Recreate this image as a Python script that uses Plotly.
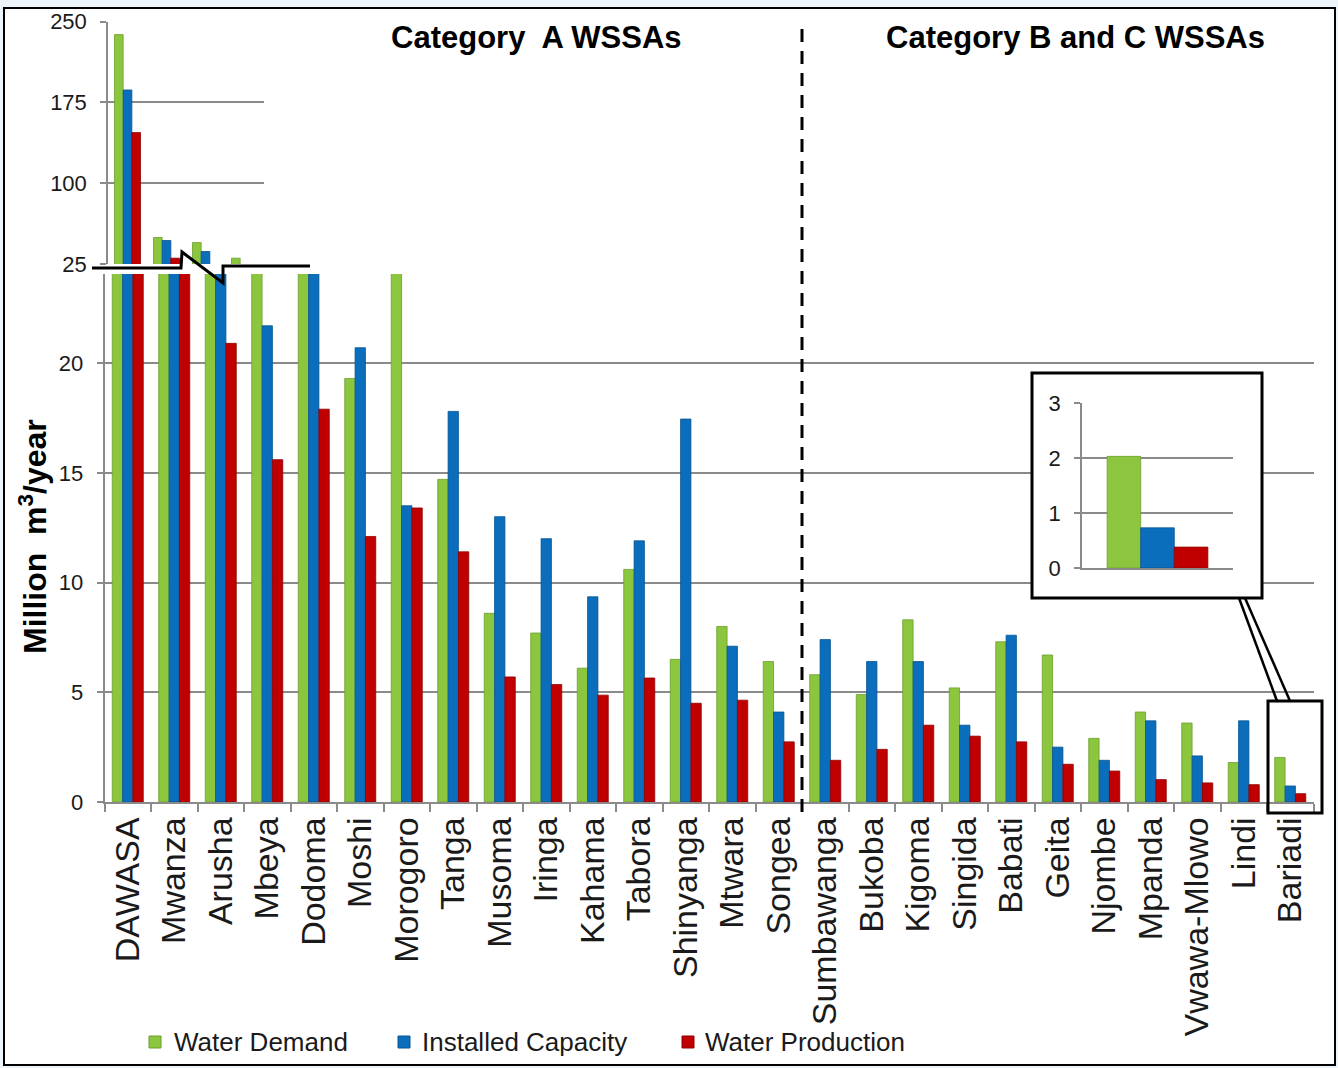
import plotly.graph_objects as go

# Urban water supply authorities, ordered by size
categories = ["DAWASA", "Mwanza", "Arusha", "Mbeya", "Dodoma", "Moshi", "Morogoro",
              "Tanga", "Musoma", "Iringa", "Kahama", "Tabora", "Shinyanga", "Mtwara",
              "Songea", "Sumbawanga", "Bukoba", "Kigoma", "Singida", "Babati", "Geita",
              "Njombe", "Mpanda", "Vwawa-Mlowo", "Lindi", "Bariadi"]

# Million m3/year
water_demand = [238.0, 49.6, 44.9, 30.4, 24.8, 19.3, 24.8, 14.7, 8.6, 7.7, 6.1, 10.6, 6.5,
                8.0, 6.4, 5.8, 4.9, 8.3, 5.2, 7.3, 6.7, 2.9, 4.1, 3.6, 1.8, 2.03]
installed_capacity = [186.6, 46.8, 36.6, 21.7, 24.8, 20.7, 13.5, 17.8, 13.0, 12.0, 9.35, 11.9,
                      17.45, 7.1, 4.1, 7.4, 6.4, 6.4, 3.5, 7.6, 2.5, 1.9, 3.7, 2.1, 3.7, 0.73]
water_production = [147.0, 30.4, 20.9, 15.6, 17.9, 12.1, 13.4, 11.4, 5.7, 5.35, 4.87, 5.65,
                    4.5, 4.64, 2.74, 1.9, 2.4, 3.5, 3.0, 2.74, 1.72, 1.41, 1.02, 0.87, 0.79, 0.38]

lower_ticks = [0, 5, 10, 15, 20]
upper_ticks = [25, 100, 175, 250]
inset_ticks = [0, 1, 2, 3]

n_category_a = 15      # DAWASA .. Songea are Category A
n_upper = 4            # utilities shown on the broken upper scale
series_names = ["Water Demand", "Installed Capacity", "Water Production"]

W, H = 1338, 1068
FONT = "Liberation Sans, Arial, sans-serif"
GRID = "#8a8a8a"
TEXT = "#1a1a1a"
fills = ["#8cc63f", "#0a6ebd", "#c00000"]
edges = ["#6b9e2c", "#07548f", "#8f0000"]


def fx(p):
    return p / W


def fy(p):
    return 1 - p / H


fig = go.Figure()
series_values = [water_demand, installed_capacity, water_production]

# main (lower) scale 0-24
for name, vals, c, e in zip(series_names, series_values, fills, edges):
    fig.add_trace(go.Bar(x=categories, y=vals, name=name, xaxis="x", yaxis="y",
                         marker=dict(color=c, line=dict(color=e, width=0.8)),
                         showlegend=False))
# upper broken scale 25-250 for the largest utilities
for name, vals, c, e in zip(series_names, series_values, fills, edges):
    fig.add_trace(go.Bar(x=categories[:n_upper], y=vals[:n_upper], name=name,
                         xaxis="x2", yaxis="y2",
                         marker=dict(color=c, line=dict(color=e, width=0.8)),
                         showlegend=False))
# white backing panel for the zoomed inset
fig.add_trace(go.Scatter(x=[None], y=[None], xaxis="x3", yaxis="y3",
                         showlegend=False, hoverinfo="skip"))
# zoomed inset of the smallest utility
for name, vals, c, e in zip(series_names, series_values, fills, edges):
    fig.add_trace(go.Bar(x=categories[-1:], y=vals[-1:], name=name,
                         xaxis="x4", yaxis="y4",
                         marker=dict(color=c, line=dict(color=e, width=0.8)),
                         showlegend=False))

tickfont = dict(family=FONT, size=22, color=TEXT)
common_y = dict(showline=True, linecolor=GRID, linewidth=1.5, ticks="outside",
                ticklen=6, tickcolor=GRID, tickwidth=1.5, showgrid=True,
                gridcolor=GRID, gridwidth=1.5, zeroline=False, tickfont=tickfont,
                ticklabelstandoff=9, automargin=False)

fig.update_layout(
    width=W, height=H, template="none",
    margin=dict(l=0, r=0, t=0, b=0),
    paper_bgcolor="#edf4fa", plot_bgcolor="white",
    barmode="group", bargap=0.333, bargroupgap=0,
    showlegend=False,
    xaxis=dict(domain=[fx(104.5), fx(1313.5)], anchor="y", type="category",
               categoryorder="array", categoryarray=categories, range=[-0.5, 25.5],
               showline=True, linecolor=GRID, linewidth=1.5, ticks="outside",
               tickson="boundaries", ticklen=8, tickcolor=GRID, tickwidth=1.5,
               tickangle=-90, showgrid=False, zeroline=False,
               tickfont=dict(family=FONT, size=34, color=TEXT), automargin=False),
    yaxis=dict(domain=[fy(802), fy(274)], anchor="x", range=[0, 24.06],
               tickvals=lower_ticks, **common_y),
    xaxis2=dict(domain=[fx(108), fx(264)], anchor="y2", type="category",
                categoryorder="array", categoryarray=categories[:n_upper],
                range=[-0.5, 3.5], visible=False),
    yaxis2=dict(domain=[fy(264), fy(21.7)], anchor="x2", range=[25, 250],
                tickvals=upper_ticks, **common_y),
    xaxis3=dict(domain=[fx(1032), fx(1262)], anchor="y3", visible=False, range=[0, 1]),
    yaxis3=dict(domain=[fy(598), fy(373)], anchor="x3", visible=False, range=[0, 1]),
    xaxis4=dict(domain=[fx(1082), fx(1233)], anchor="y4", type="category",
                range=[-0.5, 0.5], showline=True, linecolor=GRID, linewidth=1.5,
                showticklabels=False, ticks="", showgrid=False, zeroline=False,
                automargin=False),
    yaxis4=dict(domain=[fy(568), fy(403)], anchor="x4", range=[0, 3],
                tickvals=inset_ticks, **common_y),
)

shapes = []
# outer frame
shapes.append(dict(type="rect", xref="paper", yref="paper", layer="below",
                   x0=fx(4), x1=fx(1335), y0=fy(1065), y1=fy(8),
                   line=dict(color="black", width=2), fillcolor="white"))
# divider between Category A and Category B/C
shapes.append(dict(type="line", xref="x", yref="paper", layer="above",
                   x0=n_category_a - 0.5, x1=n_category_a - 0.5, y0=fy(812), y1=fy(20),
                   line=dict(color="black", width=3, dash="13px,9px")))
# axis break marker
pts = [(92, 268), (181, 268), (182, 252), (223, 283), (223, 266), (310, 266)]
path = "M " + " L ".join(f"{fx(a):.5f},{fy(b):.5f}" for a, b in pts)
shapes.append(dict(type="path", xref="paper", yref="paper", layer="above", path=path,
                   line=dict(color="black", width=3)))
# highlight box, inset frame and callout
shapes.append(dict(type="rect", xref="paper", yref="paper", layer="above",
                   x0=fx(1268), x1=fx(1322), y0=fy(813), y1=fy(701),
                   line=dict(color="black", width=3)))
shapes.append(dict(type="rect", xref="paper", yref="paper", layer="above",
                   x0=fx(1032), x1=fx(1262), y0=fy(598), y1=fy(373),
                   line=dict(color="black", width=3)))
for (a0, a1) in [(1239, 1277), (1245, 1290)]:
    shapes.append(dict(type="line", xref="paper", yref="paper", layer="above",
                       x0=fx(a0), y0=fy(598), x1=fx(a1), y1=fy(701),
                       line=dict(color="black", width=2.5)))

annotations = [
    dict(text="<b>Category  A WSSAs</b>", x=fx(536), y=fy(37), xref="paper", yref="paper",
         showarrow=False, xanchor="center", yanchor="middle",
         font=dict(family=FONT, size=31, color="black")),
    dict(text="<b>Category B and C WSSAs</b>", x=fx(1075), y=fy(37), xref="paper",
         yref="paper", showarrow=False, xanchor="center", yanchor="middle",
         font=dict(family=FONT, size=31, color="black")),
    dict(text="<b>Million  m<sup>3</sup>/year</b>", x=fx(33), y=fy(537), xref="paper",
         yref="paper", showarrow=False, textangle=-90, xanchor="center", yanchor="middle",
         font=dict(family=FONT, size=32, color="black")),
]

# legend row
legend_pos = [(149, 172), (398, 420), (682, 703)]
for (sx, tx), name, c, e in zip(legend_pos, series_names, fills, edges):
    shapes.append(dict(type="rect", xref="paper", yref="paper", layer="above",
                       x0=fx(sx), x1=fx(sx + 12), y0=fy(1048), y1=fy(1036),
                       fillcolor=c, line=dict(color=e, width=1)))
    annotations.append(dict(text=name, x=fx(tx), y=fy(1042), xref="paper", yref="paper",
                            showarrow=False, xanchor="left", yanchor="middle",
                            font=dict(family=FONT, size=26, color=TEXT)))

fig.update_layout(shapes=shapes, annotations=annotations)
fig.write_html("out.html")
